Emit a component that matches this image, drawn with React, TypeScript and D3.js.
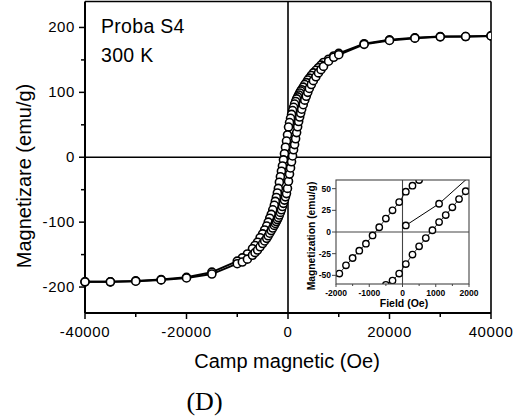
import React from "react";
import * as d3 from "d3";

// Hysteresis loop, descending branch (field decreasing)
const descField = [40000, 35000, 30000, 25000, 20000, 15000, 10000, 9000, 8000, 7000, 6500, 6000, 5500, 5000, 4600, 4200, 3900, 3600, 3300, 3000, 2700, 2500, 2300, 2100, 1900, 1700, 1500, 1300, 1100, 900, 700, 500, 300, 100, -100, -300, -500, -700, -900, -1100, -1300, -1500, -1700, -1900, -2100, -2300, -2500, -2700, -3000, -3300, -3600, -3900, -4200, -4600, -5000, -5500, -6000, -6500, -7000, -8000, -9000, -10000, -15000, -20000, -25000, -30000, -35000, -40000];
const descMag = [187, 186, 186, 184, 181, 175, 160, 156, 151, 146, 142, 138, 134, 130, 126, 122, 119, 115, 112, 108, 104, 102, 99, 96, 93, 90, 86, 82, 77, 72, 66, 60, 53.5, 46.5, 34.5, 25, 15.5, 5.5, -4, -13.5, -21.5, -30, -38.5, -48, -55, -62, -68, -74, -81, -88, -94, -100, -106, -112, -118, -124, -131, -136, -141, -149, -155, -160, -177, -185, -188.5, -190.5, -192, -192];

// Ascending branch (field increasing)
const ascField = [-40000, -35000, -30000, -25000, -20000, -15000, -10000, -9000, -8000, -7000, -6500, -6000, -5500, -5000, -4600, -4200, -3900, -3600, -3300, -3000, -2700, -2500, -2300, -2100, -1900, -1700, -1500, -1300, -1100, -900, -700, -500, -300, -100, 100, 300, 500, 700, 900, 1100, 1300, 1500, 1700, 1900, 2100, 2300, 2500, 2700, 3000, 3300, 3600, 3900, 4200, 4600, 5000, 5500, 6000, 6500, 7000, 8000, 9000, 10000, 15000, 20000, 25000, 30000, 35000, 40000];
const ascMag = [-192, -192, -191, -189, -186, -180, -164, -161.5, -157, -151, -147, -143, -138, -133, -129, -125, -121, -117, -113, -109, -105, -102, -99, -96, -93, -89, -85, -81, -76, -71, -66, -61, -56, -48, -37, -26, -16.5, -7, 2, 11.5, 19.5, 28.5, 38, 47, 55, 62, 68, 74, 81, 88, 94, 100, 106, 112, 118, 124, 130, 135, 140, 148, 154, 158, 174, 180, 183.5, 185.5, 186, 187];

// Initial (virgin) magnetization curve, inset
const virginField = [100, 1100, 2100];
const virginMag = [7.6, 32.6, 67];

// Main axes ticks
const xTicks = [-40000, -20000, 0, 20000, 40000];
const xMinorTicks = [-30000, -10000, 10000, 30000];
const yTicks = [-200, -100, 0, 100, 200];
const yMinorTicks = [-150, -50, 50, 150];

// Inset axes ticks
const insetXTicks = [-2000, -1000, 0, 1000, 2000];
const insetXMinorTicks = [-1500, -500, 500, 1500];
const insetYTicks = [-50, -25, 0, 25, 50];

const SANS = "'Liberation Sans', Arial, Helvetica, sans-serif";
const SERIF = "'Liberation Serif', 'Times New Roman', serif";

type Pt = { h: number; m: number };
const zipPts = (hs: number[], ms: number[]): Pt[] => hs.map((h, i) => ({ h, m: ms[i] }));

export default function App() {
  const desc = zipPts(descField, descMag);
  const asc = zipPts(ascField, ascMag);
  const virgin = zipPts(virginField, virginMag);

  // main scales
  const x = d3.scaleLinear().domain([-40000, 40000]).range([85, 491]);
  const y = d3.scaleLinear().domain([-240, 240]).range([313, 1.5]);
  const line = d3
    .line<Pt>()
    .x((d) => x(d.h))
    .y((d) => y(d.m));

  // inset scales
  const ix = d3.scaleLinear().domain([-2000, 2000]).range([336, 469]);
  const iy = d3.scaleLinear().domain([-60, 60]).range([284, 180]);
  const iline = d3
    .line<Pt>()
    .x((d) => ix(d.h))
    .y((d) => iy(d.m));
  const inInset = (d: Pt) => d.h >= -2000 && d.h <= 2000 && d.m >= -66 && d.m <= 66;
  const insetDesc = desc.filter((d) => d.h >= -2300 && d.h <= 900);
  const insetAsc = asc.filter((d) => d.h >= -700 && d.h <= 2300);

  const [x0, x1] = x.range();
  const [y0, y1] = y.range();
  const [ix0, ix1] = ix.range();
  const [iy0, iy1] = iy.range();

  return (
    <svg
      width={520}
      height={418}
      style={{ position: "absolute", left: 0, top: 0, background: "#fff" }}
    >
      <defs>
        <clipPath id="insetClip">
          <rect x={ix0} y={iy1} width={ix1 - ix0} height={iy0 - iy1} />
        </clipPath>
        <clipPath id="mainClip">
          <rect x={x0 - 6} y={y1} width={x1 - x0 + 6} height={y0 - y1} />
        </clipPath>
      </defs>

      {/* zero lines */}
      <line x1={x0} x2={x1} y1={y(0)} y2={y(0)} stroke="#000" strokeWidth={1.6} />
      <line x1={x(0)} x2={x(0)} y1={y1} y2={y0} stroke="#000" strokeWidth={1.6} />

      {/* frame */}
      <line x1={x0} x2={x1} y1={y1} y2={y1} stroke="#000" strokeWidth={1.6} />
      <line x1={x1} x2={x1} y1={y1} y2={y0} stroke="#000" strokeWidth={1.6} />
      <line x1={x0} x2={x0} y1={y1} y2={y0} stroke="#000" strokeWidth={2} />
      <line x1={x0} x2={x1} y1={y0} y2={y0} stroke="#000" strokeWidth={2} />

      {/* x ticks */}
      {xTicks.map((t) => (
        <g key={"xt" + t}>
          <line x1={x(t)} x2={x(t)} y1={y0} y2={y0 + 6} stroke="#000" strokeWidth={1.5} />
          <text
            x={x(t)}
            y={336.5}
            textAnchor="middle"
            fontFamily={SANS}
            fontSize={15}
            letterSpacing={0.6}
          >
            {t}
          </text>
        </g>
      ))}
      {xMinorTicks.map((t) => (
        <line key={"xm" + t} x1={x(t)} x2={x(t)} y1={y0} y2={y0 + 4} stroke="#000" strokeWidth={1.5} />
      ))}

      {/* y ticks */}
      {yTicks.map((t) => (
        <g key={"yt" + t}>
          <line x1={x0 - 6} x2={x0} y1={y(t)} y2={y(t)} stroke="#000" strokeWidth={1.5} />
          <text
            x={75}
            y={y(t) + 5}
            textAnchor="end"
            fontFamily={SANS}
            fontSize={15}
            letterSpacing={0.6}
          >
            {t}
          </text>
        </g>
      ))}
      {yMinorTicks.map((t) => (
        <line key={"ym" + t} x1={x0 - 4} x2={x0} y1={y(t)} y2={y(t)} stroke="#000" strokeWidth={1.5} />
      ))}

      {/* data */}
      <g clipPath="url(#mainClip)">
        <path d={line(desc) || ""} fill="none" stroke="#000" strokeWidth={2} />
        <path d={line(asc) || ""} fill="none" stroke="#000" strokeWidth={2} />
        {desc.map((d, i) => (
          <circle key={"d" + i} cx={x(d.h)} cy={y(d.m)} r={4} fill="#fff" stroke="#000" strokeWidth={1.6} />
        ))}
        {asc.map((d, i) => (
          <circle key={"a" + i} cx={x(d.h)} cy={y(d.m)} r={4} fill="#fff" stroke="#000" strokeWidth={1.6} />
        ))}
      </g>

      {/* annotation */}
      <text x={101} y={33} fontFamily={SANS} fontSize={19.5} letterSpacing={0.3}>
        Proba S4
      </text>
      <text x={101} y={62} fontFamily={SANS} fontSize={19.5} letterSpacing={0.3}>
        300 K
      </text>

      {/* axis titles */}
      <text x={287} y={368} textAnchor="middle" fontFamily={SANS} fontSize={20}>
        Camp magnetic (Oe)
      </text>
      <text
        transform="translate(31,176) rotate(-90)"
        textAnchor="middle"
        fontFamily={SANS}
        fontSize={20}
      >
        Magnetizare (emu/g)
      </text>
      <text x={204.5} y={410} textAnchor="middle" fontFamily={SERIF} fontSize={26}>
        (D)
      </text>

      {/* inset */}
      <rect x={ix0} y={iy1} width={ix1 - ix0} height={iy0 - iy1} fill="#fff" />
      <line x1={ix0} x2={ix1} y1={iy(0)} y2={iy(0)} stroke="#444" strokeWidth={1.1} />
      <line x1={ix(0)} x2={ix(0)} y1={iy1} y2={iy0} stroke="#444" strokeWidth={1.1} />
      <g clipPath="url(#insetClip)">
        <path d={iline(insetDesc) || ""} fill="none" stroke="#000" strokeWidth={0.8} />
        <path d={iline(insetAsc) || ""} fill="none" stroke="#000" strokeWidth={0.8} />
        <path d={iline(virgin) || ""} fill="none" stroke="#000" strokeWidth={1} />
        {insetDesc.filter(inInset).map((d, i) => (
          <circle key={"id" + i} cx={ix(d.h)} cy={iy(d.m)} r={3.2} fill="#fff" stroke="#000" strokeWidth={1.4} />
        ))}
        {insetAsc.filter(inInset).map((d, i) => (
          <circle key={"ia" + i} cx={ix(d.h)} cy={iy(d.m)} r={3.2} fill="#fff" stroke="#000" strokeWidth={1.4} />
        ))}
        {virgin.filter(inInset).map((d, i) => (
          <circle key={"iv" + i} cx={ix(d.h)} cy={iy(d.m)} r={3.2} fill="#fff" stroke="#000" strokeWidth={1.4} />
        ))}
      </g>
      <rect x={ix0} y={iy1} width={ix1 - ix0} height={iy0 - iy1} fill="none" stroke="#444" strokeWidth={1.1} />

      {insetXTicks.map((t) => (
        <g key={"ixt" + t}>
          <line x1={ix(t)} x2={ix(t)} y1={iy0} y2={iy0 + 3} stroke="#444" strokeWidth={1} />
          <text
            x={ix(t)}
            y={296}
            textAnchor="middle"
            fontFamily={SANS}
            fontWeight="bold"
            fontSize={8.5}
          >
            {t}
          </text>
        </g>
      ))}
      {insetXMinorTicks.map((t) => (
        <line key={"ixm" + t} x1={ix(t)} x2={ix(t)} y1={iy0} y2={iy0 + 2} stroke="#444" strokeWidth={1} />
      ))}
      {insetYTicks.map((t) => (
        <g key={"iyt" + t}>
          <line x1={ix0 - 4} x2={ix0} y1={iy(t)} y2={iy(t)} stroke="#444" strokeWidth={1} />
          <text
            x={331}
            y={iy(t) + 3}
            textAnchor="end"
            fontFamily={SANS}
            fontWeight="bold"
            fontSize={8.5}
          >
            {t}
          </text>
        </g>
      ))}
      <text x={404} y={306.5} textAnchor="middle" fontFamily={SANS} fontWeight="bold" fontSize={10.5}>
        Field (Oe)
      </text>
      <text
        transform="translate(315,236) rotate(-90)"
        textAnchor="middle"
        fontFamily={SANS}
        fontWeight="bold"
        fontSize={10.3}
      >
        Magnetization (emu/g)
      </text>
    </svg>
  );
}
